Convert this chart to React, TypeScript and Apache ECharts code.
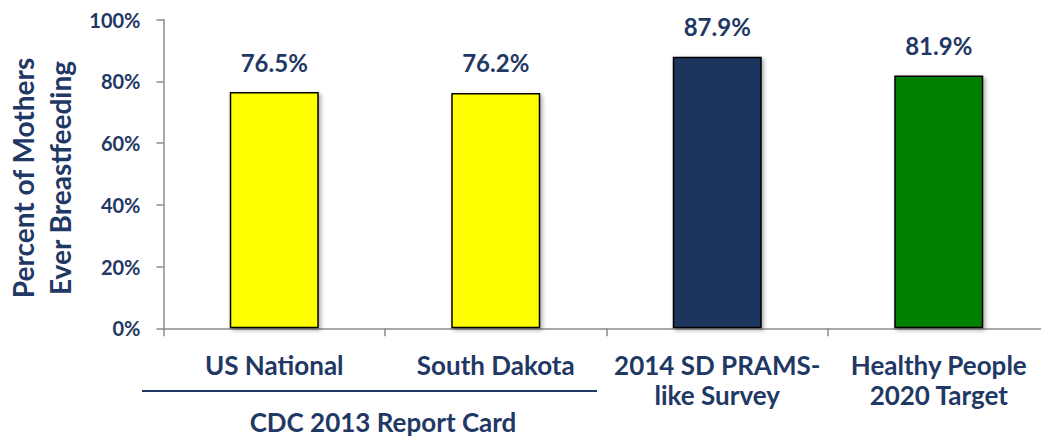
import React, { useEffect, useRef } from "react";
import * as echarts from "echarts";

const categories = ["US National", "South Dakota", "2014 SD PRAMS-\nlike Survey", "Healthy People\n2020 Target"];
const values = [76.5, 76.2, 87.9, 81.9];
const barColors = ["#FFFF00", "#FFFF00", "#1B365D", "#008000"];
const yTicks = { min: 0, max: 100, interval: 20 };
const yTitle = "Percent of Mothers\nEver Breastfeeding";
const groupLabel = "CDC 2013 Report Card";

const NAVY = "#1F3864";
const FONT = "Lato";

export default function App() {
  const ref = useRef<HTMLDivElement>(null);
  useEffect(() => {
    if (!ref.current) return;
    const chart = echarts.init(ref.current, undefined, { renderer: "svg" });
    chart.setOption({
      animation: false,
      backgroundColor: "#ffffff",
      grid: { left: 163.5, top: 19.5, right: 10.5, bottom: 110.7, containLabel: false },
      xAxis: {
        type: "category",
        data: categories,
        axisLine: { show: true, lineStyle: { color: "#8C8C8C", width: 1.5 } },
        axisTick: { show: true, length: 8, lineStyle: { color: "#8C8C8C", width: 1.5 } },
        axisLabel: {
          color: NAVY,
          fontFamily: FONT,
          fontWeight: "bold",
          fontSize: 26,
          lineHeight: 30,
          margin: 22,
          interval: 0,
        },
      },
      yAxis: {
        type: "value",
        min: yTicks.min,
        max: yTicks.max,
        interval: yTicks.interval,
        splitLine: { show: false },
        axisLine: { show: true, lineStyle: { color: "#8C8C8C", width: 1.5 } },
        axisTick: { show: true, length: 7, lineStyle: { color: "#8C8C8C", width: 1.5 } },
        axisLabel: {
          formatter: "{value}%",
          color: NAVY,
          fontFamily: FONT,
          fontWeight: "bold",
          fontSize: 20,
          margin: 23,
        },
      },
      series: [
        {
          type: "bar",
          barWidth: 89,
          data: values.map((v, i) => ({
            value: v,
            itemStyle: {
              color: barColors[i],
              borderColor: "#000000",
              borderWidth: 1.5,
              shadowBlur: 4,
              shadowColor: "rgba(0,0,0,0.35)",
              shadowOffsetX: 2,
              shadowOffsetY: 2,
            },
          })),
          label: {
            show: true,
            position: "top",
            distance: 18,
            formatter: (p: any) => p.value.toFixed(1) + "%",
            color: NAVY,
            fontFamily: FONT,
            fontWeight: "bold",
            fontSize: 24,
          },
        },
      ],
      graphic: [
        {
          type: "text",
          x: 41,
          y: 178,
          rotation: Math.PI / 2,
          style: {
            text: yTitle,
            fill: NAVY,
            font: `bold 28px ${FONT}`,
            lineHeight: 37,
            textAlign: "center",
            textVerticalAlign: "middle",
          },
        },
        {
          type: "line",
          shape: { x1: 142, y1: 391, x2: 597, y2: 391 },
          style: { stroke: NAVY, lineWidth: 2 },
        },
        {
          type: "text",
          x: 383,
          y: 422,
          style: {
            text: groupLabel,
            fill: NAVY,
            font: `bold 26px ${FONT}`,
            textAlign: "center",
            textVerticalAlign: "middle",
          },
        },
      ],
    });
    return () => chart.dispose();
  }, []);
  return (
    <div style={{ position: "fixed", left: 0, top: 0, width: 1041, height: 439, overflow: "hidden", background: "#fff" }}>
      <div ref={ref} style={{ width: 1060, height: 439 }} />
    </div>
  );
}
